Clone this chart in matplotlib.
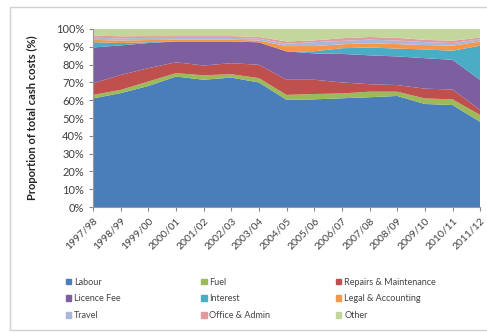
import matplotlib.pyplot as plt
from matplotlib.patches import Rectangle, Patch
from matplotlib.ticker import PercentFormatter

plt.rcParams['font.family'] = ['Lato', 'DejaVu Sans']

# years (x categories)
years = ['1997/98', '1998/99', '1999/00', '2000/01', '2001/02', '2002/03', '2003/04',
         '2004/05', '2005/06', '2006/07', '2007/08', '2008/09', '2009/10', '2010/11', '2011/12']

# share of total cash costs (%)
labour = [61.0, 64.0, 68.0, 73.3, 71.5, 72.7, 70.0, 60.2, 60.5, 61.1, 61.7, 62.4, 57.9, 57.3, 47.9]
fuel = [2.0, 1.8, 2.5, 1.9, 2.5, 1.9, 2.4, 2.8, 3.0, 2.7, 3.1, 2.4, 3.1, 3.2, 3.8]
repairs = [6.5, 8.4, 7.5, 6.1, 5.5, 6.2, 7.5, 8.5, 8.0, 6.2, 4.2, 3.7, 5.5, 5.5, 2.8]
licence = [20.1, 16.6, 14.1, 11.7, 13.5, 12.2, 12.6, 15.9, 14.8, 16.0, 16.2, 16.1, 17.1, 16.7, 16.9]
interest = [3.0, 1.3, 0.5, 0.0, 0.0, 0.0, 0.0, 0.0, 1.2, 3.2, 4.4, 4.4, 4.9, 5.1, 19.2]
legal = [1.3, 1.4, 1.2, 1.0, 1.0, 1.0, 1.0, 3.0, 2.9, 2.2, 2.4, 2.5, 2.5, 2.8, 2.4]
travel = [1.2, 1.2, 1.2, 1.0, 1.0, 1.0, 1.0, 1.3, 2.2, 1.9, 2.0, 2.0, 1.6, 1.5, 1.2]
office = [1.2, 1.2, 1.0, 1.0, 1.0, 1.0, 1.0, 1.3, 1.0, 1.5, 1.5, 1.5, 1.3, 1.3, 1.0]
other = [3.7, 4.1, 4.0, 4.0, 4.0, 4.0, 4.5, 7.0, 6.4, 5.2, 4.5, 5.0, 6.1, 6.6, 4.8]

names = ['Labour', 'Fuel', 'Repairs & Maintenance', 'Licence Fee', 'Interest',
         'Legal & Accounting', 'Travel', 'Office & Admin', 'Other']
series = [labour, fuel, repairs, licence, interest, legal, travel, office, other]
colors = ['#4a7ebb', '#9bbb59', '#c0504d', '#7d5fa0', '#4bacc6',
          '#f79646', '#a9b7da', '#e39a9c', '#c3d69b']

fig = plt.figure(figsize=(4.87, 3.33), dpi=100)
ax = fig.add_axes([0.191, 0.378, 0.795, 0.535])

x = list(range(len(years)))
ax.stackplot(x, *series, colors=colors, labels=names, linewidth=0)

ax.set_xlim(0, len(years) - 1)
ax.set_ylim(0, 100)
ax.set_yticks(range(0, 101, 10))
ax.yaxis.set_major_formatter(PercentFormatter(decimals=0))
ax.set_xticks(x)
ax.set_xticklabels(years, rotation=45, ha='right', rotation_mode='anchor')
ax.tick_params(axis='both', labelsize=7.5, colors='#404040', length=3, color='#888888')
ax.tick_params(axis='y', labelsize=8)
for s in ['top', 'right']:
    ax.spines[s].set_visible(False)
for s in ['left', 'bottom']:
    ax.spines[s].set_color('#999999')
ax.set_ylabel('Proportion of total cash costs (%)', fontsize=8, fontweight='bold',
              color='#222222', labelpad=13)

# legend: three columns placed one by one, rows read across like the original
col_x = [0.135, 0.413, 0.690]
for c in range(3):
    idx = [c, c + 3, c + 6]
    handles = [Patch(color=colors[i], label=names[i]) for i in idx]
    leg = fig.legend(handles=handles, loc='upper left', bbox_to_anchor=(col_x[c], 0.166),
                     frameon=False, fontsize=6.5, handlelength=0.6, handleheight=0.6,
                     handletextpad=0.3, labelspacing=0.85, borderpad=0, borderaxespad=0,
                     labelcolor='#444444')

# chart frame
fig.patches.append(Rectangle((0.021, 0.009), 1.2, 0.97, transform=fig.transFigure,
                             fill=False, edgecolor='#d0d0d0', linewidth=1))

fig.savefig('out.png', dpi=100)
